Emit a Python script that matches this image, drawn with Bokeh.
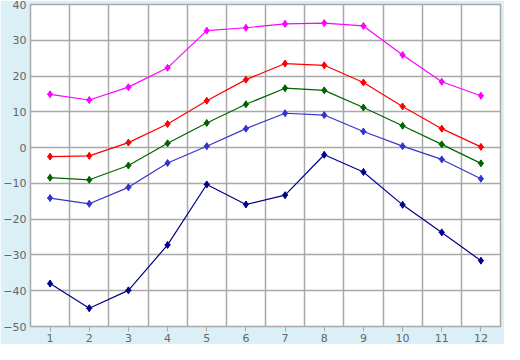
from bokeh.plotting import figure
from bokeh.models import FixedTicker, Range1d
from bokeh.embed import file_html
from bokeh.resources import INLINE

months = [1, 2, 3, 4, 5, 6, 7, 8, 9, 10, 11, 12]
s_magenta = [14.9, 13.3, 16.9, 22.3, 32.7, 33.5, 34.6, 34.8, 34.0, 25.9, 18.4, 14.5]
s_red = [-2.5, -2.3, 1.4, 6.6, 13.1, 19.0, 23.5, 23.0, 18.2, 11.5, 5.3, 0.2]
s_green = [-8.4, -9.0, -5.0, 1.2, 6.9, 12.1, 16.6, 16.0, 11.2, 6.1, 0.9, -4.4]
s_blue = [-14.1, -15.7, -11.1, -4.3, 0.4, 5.3, 9.6, 9.1, 4.5, 0.4, -3.3, -8.7]
s_navy = [-38.0, -44.9, -39.9, -27.2, -10.3, -15.9, -13.3, -2.0, -6.8, -16.0, -23.7, -31.6]
y_ticks = [-50, -40, -30, -20, -10, 0, 10, 20, 30, 40]

series = [
    (s_magenta, "#FF00FF"),
    (s_red, "#FF0000"),
    (s_green, "#006400"),
    (s_blue, "#3535CC"),
    (s_navy, "#00008B"),
]

bg = "#DAEFF6"
gridc = "#A8A8A8"
textc = "#666666"

p = figure(width=504, height=344, output_backend="svg", toolbar_location=None,
           x_range=Range1d(0.5, 12.5), y_range=Range1d(-50, 40),
           min_border_left=4, min_border_right=4, min_border_top=4, min_border_bottom=4)
p.background_fill_color = "white"
p.border_fill_color = bg
p.outline_line_color = gridc
p.outline_line_width = 1.5

p.xaxis.ticker = FixedTicker(ticks=months)
p.yaxis.ticker = FixedTicker(ticks=y_ticks)
p.xgrid.ticker = FixedTicker(ticks=[m + 0.5 for m in months[:-1]])
for g in (p.xgrid, p.ygrid):
    g.grid_line_color = gridc
    g.grid_line_width = 1.5

for ax in (p.xaxis, p.yaxis):
    ax.axis_line_color = None
    ax.major_label_text_font = "DejaVu Sans"
    ax.major_label_text_font_size = "11px"
    ax.major_label_text_color = textc
    ax.minor_tick_line_color = None
p.xaxis.major_tick_in = 0
p.xaxis.major_tick_out = 5
p.xaxis.major_tick_line_color = gridc
p.xaxis.major_label_standoff = 2
p.yaxis.major_tick_line_color = None
p.yaxis.major_tick_in = 0
p.yaxis.major_tick_out = 0
p.yaxis.major_label_standoff = 4

for vals, col in series:
    p.line(months, vals, line_color=col, line_width=1.2)
    p.scatter(months, vals, marker="diamond", size=7, fill_color=col, line_color=col)
    p.scatter(months, vals, marker="cross", size=6, line_color=col, line_width=1.2)

open("out.html", "w").write(file_html(p, INLINE))
